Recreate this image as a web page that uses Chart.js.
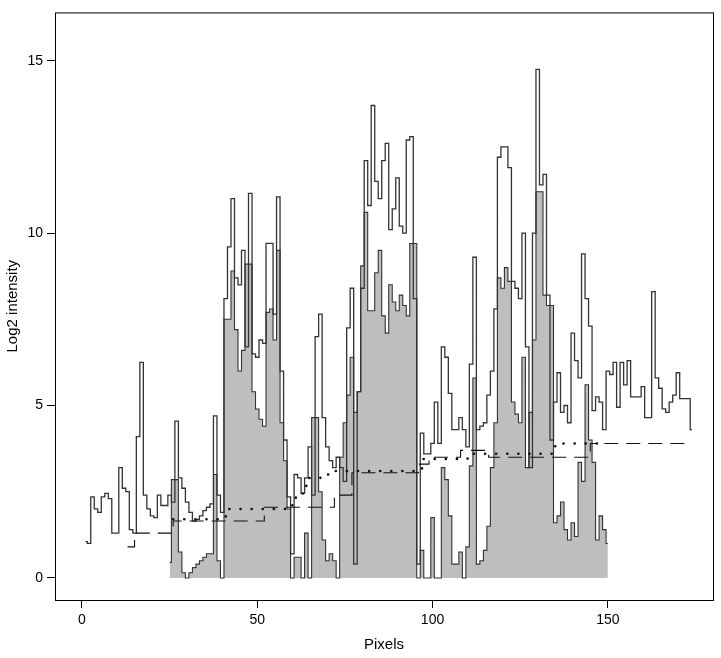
<!DOCTYPE html>
<html>
<head>
<script src="https://cdn.jsdelivr.net/npm/chart.js@4"></script>
<style>body{margin:0;background:#fff}#wrap{width:721px;height:658px}</style>
</head>
<body>
<div id="wrap"><canvas id="chart"></canvas></div>
<script>
// raw intensity, pixels 1..174
const rawStart = 1;
const rawValues = [1.05,1.0,2.35,2.0,1.9,2.35,2.45,2.3,1.3,1.3,3.2,2.6,2.5,1.4,1.3,4.1,6.25,2.4,2.0,1.8,
  1.75,2.4,2.1,2.1,2.4,2.2,4.55,2.9,2.6,2.2,1.9,1.65,1.7,1.8,1.95,2.05,2.15,4.7,2.4,1.9,
  8.1,9.6,11.0,8.7,8.5,9.5,6.7,11.15,6.5,6.4,6.9,6.8,9.7,9.7,7.65,11.05,6.0,4.0,2.35,0.7,
  3.0,2.9,2.45,2.9,3.8,2.4,7.0,7.65,4.65,3.8,3.4,3.2,3.5,3.2,2.8,7.25,8.4,0.4,5.4,8.4,
  12.1,10.8,13.7,11.5,11.0,12.1,12.6,10.1,10.7,11.6,10.2,10.0,12.7,12.8,8.1,0.4,4.2,3.6,3.6,3.9,
  5.1,3.9,6.7,6.4,5.35,4.3,4.3,4.65,4.3,3.8,6.2,9.3,4.3,4.4,4.5,5.3,6.0,7.8,12.2,12.5,
  12.5,11.9,8.6,8.4,8.1,10.0,6.7,3.2,10.0,14.75,11.4,11.7,8.2,4.0,5.1,5.95,4.8,5.0,4.5,7.1,
  6.3,5.8,9.4,8.1,7.3,4.85,5.25,5.1,4.3,6.0,5.9,6.25,4.95,6.25,5.6,6.3,5.25,5.25,5.25,5.55,
  4.65,4.65,8.3,5.8,5.5,4.9,4.8,5.1,5.3,5.95,5.2,5.2,5.2,4.3];
// corrected intensity (grey), pixels 25..150
const corrStart = 25;
const corrValues = [0.45,2.85,2.85,0.75,0.15,0,0.15,0.3,0.4,0.5,0.6,0.7,0.7,3.0,0.5,0,
  7.5,7.5,8.9,7.2,6.0,6.6,9.1,9.1,5.4,4.9,4.6,4.4,7.7,7.8,6.9,9.5,4.5,3.4,2.0,0,
  0.6,0.6,0,1.3,0,4.65,4.65,2.5,1.1,0.5,0.7,0.5,0,3.5,4.5,5.3,6.4,4.8,5.4,9.05,
  10.6,7.75,7.75,8.85,9.5,7.6,7.1,8.5,8.0,7.75,8.2,7.9,7.6,9.7,9.7,0,0.8,0,0,1.75,
  0,0,3.2,2.85,1.8,0.4,0.4,0.75,0,0.9,3.25,5.8,0.4,0.5,0.8,1.5,3.2,4.5,8.7,8.4,
  9.0,8.6,5.1,4.75,4.5,6.4,3.2,4.8,6.9,11.2,11.2,8.2,7.9,7.9,1.6,1.8,2.2,1.4,1.1,1.6,
  1.2,3.35,2.8,5.6,4.0,3.35,1.1,1.8,1.4,1.0];
// background estimate (dashed): step starts
const dashX = [13,15,26,52,72,77,96,99,108,116,145,173];
const dashY = [0.9,1.3,1.65,2.05,2.4,3.05,3.3,3.5,3.7,3.5,3.9,3.9];
// smoothed baseline (dotted): step starts
const dotX = [26,41,59,60,61,64,68,72,97,110,135,148];
const dotY = [1.7,2.0,2.05,2.3,2.45,2.9,3.0,3.1,3.45,3.6,3.9,3.9];
const xTicks = [0,50,100,150];
const yTicks = [0,5,10,15];

const toPts = (start, vals) => vals.map((v, i) => ({x: start + i, y: v}));
const zip = (xs, ys) => xs.map((x, i) => ({x: x, y: ys[i]}));

const boxPlugin = {
  id: 'box',
  afterDraw(chart) {
    const a = chart.chartArea, c = chart.ctx;
    c.save();
    c.strokeStyle = '#000';
    c.lineWidth = 1;
    c.strokeRect(a.left + 0.5, a.top + 0.5, a.width, a.height);
    c.restore();
  }
};

new Chart(document.getElementById('chart'), {
  type: 'line',
  data: {
    datasets: [
      {data: toPts(corrStart, corrValues), stepped: 'middle', borderColor: '#333', borderWidth: 1.1,
       backgroundColor: '#bebebe', fill: 'origin', pointRadius: 0, order: 4},
      {data: zip(dashX, dashY), stepped: 'before', borderColor: '#111', borderWidth: 1.1,
       borderDash: [14, 8], fill: false, pointRadius: 0, order: 2},
      {data: zip(dotX, dotY), stepped: 'before', borderColor: '#111', borderWidth: 2.6,
       borderDash: [0.1, 11], borderCapStyle: 'round', fill: false, pointRadius: 0, order: 1},
      {data: toPts(rawStart, rawValues), stepped: 'middle', borderColor: '#333', borderWidth: 1.3,
       fill: false, pointRadius: 0, order: 3}
    ]
  },
  options: {
    responsive: true,
    maintainAspectRatio: false,
    animation: false,
    layout: {padding: {top: 10, right: 8}},
    plugins: {legend: {display: false}, tooltip: {enabled: false}},
    scales: {
      x: {
        type: 'linear', min: -7.7, max: 180,
        afterBuildTicks: s => { s.ticks = xTicks.map(v => ({value: v})); },
        afterFit: s => { s.height = 58; },
        grid: {drawOnChartArea: false, tickLength: 8, color: '#000'},
        border: {display: false},
        ticks: {color: '#000', font: {family: 'Liberation Sans', size: 14}, padding: 4},
        title: {display: true, text: 'Pixels', color: '#000', font: {family: 'Liberation Sans', size: 15}, padding: {top: 2}}
      },
      y: {
        min: -0.64, max: 16.4,
        afterBuildTicks: s => { s.ticks = yTicks.map(v => ({value: v})); },
        afterFit: s => { s.width = 55; },
        grid: {drawOnChartArea: false, tickLength: 8, color: '#000'},
        border: {display: false},
        ticks: {color: '#000', font: {family: 'Liberation Sans', size: 14}, padding: 4},
        title: {display: true, text: 'Log2 intensity', color: '#000', font: {family: 'Liberation Sans', size: 15}, padding: {bottom: 0}}
      }
    }
  },
  plugins: [boxPlugin]
});
</script>
</body>
</html>
